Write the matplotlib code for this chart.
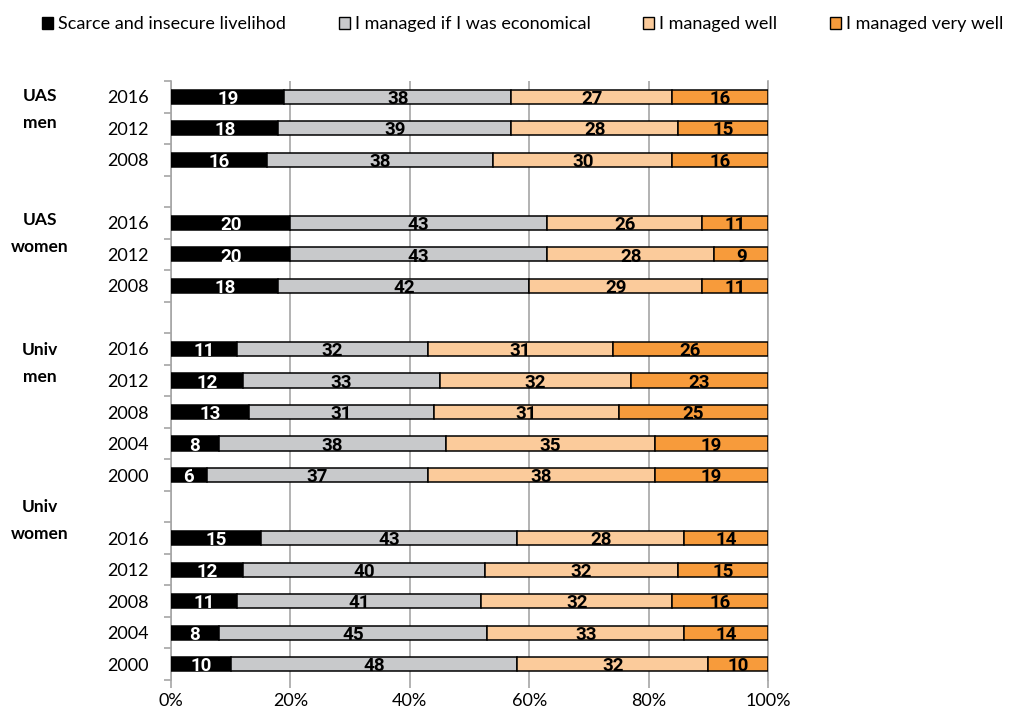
import numpy as np
import matplotlib
matplotlib.use("Agg")
import matplotlib.pyplot as plt
from matplotlib.patches import Patch

series = ["Scarce and insecure livelihod", "I managed if I was economical",
          "I managed well", "I managed very well"]
colors = ["#000000", "#C8C9CB", "#FBCB9B", "#F79B3B"]
text_colors = ["white", "black", "black", "black"]

group_names = ["UAS\nmen", "UAS\nwomen", "Univ\nmen", "Univ\nwomen"]
years_uas = ["2016", "2012", "2008"]
years_univ = ["2016", "2012", "2008", "2004", "2000"]

uas_men = [[19, 38, 27, 16], [18, 39, 28, 15], [16, 38, 30, 16]]
uas_women = [[20, 43, 26, 11], [20, 43, 28, 9], [18, 42, 29, 11]]
univ_men = [[11, 32, 31, 26], [12, 33, 32, 23], [13, 31, 31, 25],
            [8, 38, 35, 19], [6, 37, 38, 19]]
univ_women = [[15, 43, 28, 14], [12, 40, 32, 15], [11, 41, 32, 16],
              [8, 45, 33, 14], [10, 48, 32, 10]]

groups = [(uas_men, years_uas), (uas_women, years_uas),
          (univ_men, years_univ), (univ_women, years_univ)]

label_font = ["Liberation Sans Narrow", "DejaVu Sans Condensed", "Roboto"]
plt.rcParams["font.family"] = ["Lato", "DejaVu Sans"]

fig = plt.figure(figsize=(10.15, 7.14), dpi=100)
ax = fig.add_axes([171 / 1015, 1 - 680 / 714, (768 - 171) / 1015, (680 - 81) / 714])

ypos, ylabels, rows, group_start = [], [], [], []
slot = 0
for data, yrs in groups:
    group_start.append(slot)
    for vals, yr in zip(data, yrs):
        ypos.append(slot)
        ylabels.append(yr)
        rows.append(vals)
        slot += 1
    slot += 1
nslots = slot - 1

rows = np.array(rows, dtype=float)
fracs = rows / rows.sum(axis=1, keepdims=True)
ypos = np.array(ypos)

left = np.zeros(len(rows))
for j in range(4):
    ax.barh(ypos, fracs[:, j], left=left, height=0.45, color=colors[j],
            edgecolor="black", linewidth=1.1, zorder=3)
    for y, l, w, v in zip(ypos, left, fracs[:, j], rows[:, j]):
        ax.text(l + w / 2, y + 0.07, f"{int(v)}", ha="center", va="center",
                color=text_colors[j], fontsize=13.5, fontweight="bold",
                family=label_font, zorder=5)
    left += fracs[:, j]

ax.set_xlim(0, 1)
ax.set_ylim(nslots - 0.5, -0.5)
ax.set_xticks(np.linspace(0, 1, 6))
ax.set_xticklabels([f"{int(v)}%" for v in np.linspace(0, 100, 6)], fontsize=13)
ax.set_yticks(ypos)
ax.set_yticklabels(ylabels, fontsize=13)
ax.tick_params(axis="y", which="major", length=0, pad=16)
ax.set_yticks(np.arange(-0.5, nslots, 1.0), minor=True)
ax.tick_params(axis="y", which="minor", length=5, color="#A6A6A6", width=1.2)
ax.tick_params(axis="x", length=6, color="#A6A6A6", width=1.2, pad=3)
ax.grid(axis="x", color="#A6A6A6", linewidth=1.2, zorder=0)
ax.set_axisbelow(True)
for s in ["top", "bottom"]:
    ax.spines[s].set_visible(False)
for s in ["left", "right"]:
    ax.spines[s].set_color("#A6A6A6")
    ax.spines[s].set_linewidth(1.2)

offsets = [0.4, 0.35, 0.45, -0.55]
for name, start, off in zip(group_names, group_start, offsets):
    yfig = ax.transData.transform((0, start + off))[1]
    fig.text(40 / 1015, yfig / fig.dpi / 7.14, name, ha="center", va="center",
             fontsize=12.5, fontweight="bold", linespacing=1.85)

handles = [Patch(facecolor=c, edgecolor="black", linewidth=1.0) for c in colors]
fig.legend(handles, series, loc="upper left", bbox_to_anchor=(26 / 1015, 1.0),
           ncol=4, frameon=False, fontsize=13, handlelength=0.6,
           handleheight=0.6, handletextpad=0.3, columnspacing=2.9)

fig.savefig("out.png", dpi=100)
